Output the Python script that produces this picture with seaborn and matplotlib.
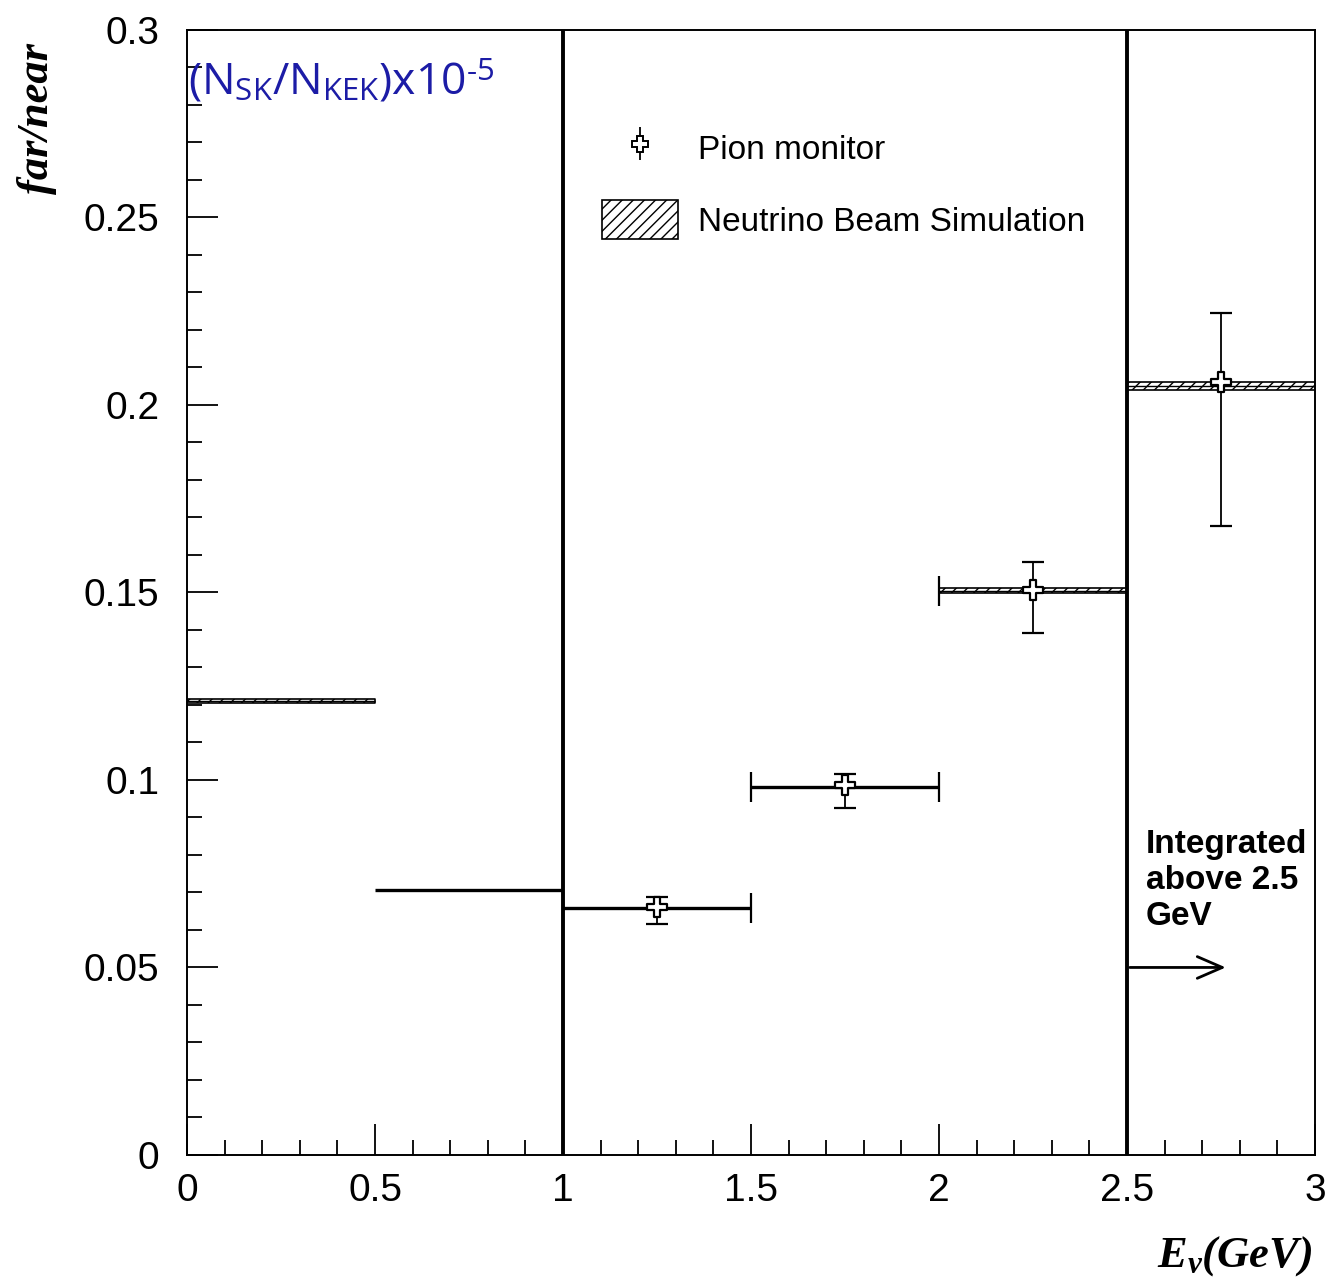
import numpy as np
import pandas as pd
import matplotlib
matplotlib.use("Agg")
import matplotlib.pyplot as plt
from matplotlib.patches import Patch
import seaborn as sns

# Neutrino beam simulation: far/near ratio per energy bin
bin_lo = [0.0, 0.5, 1.0, 1.5, 2.0, 2.5]
bin_hi = [0.5, 1.0, 1.5, 2.0, 2.5, 3.0]
sim_ratio = [0.1210, 0.0707, 0.0658, 0.0981, 0.1505, 0.2051]
sim_halfwidth = [0.0005, 0.0, 0.0, 0.0, 0.0007, 0.0011]

# Pion monitor measurements
pion_e = [1.25, 1.75, 2.25, 2.75]
pion_ratio = [0.0662, 0.0987, 0.1507, 0.2062]
pion_err_lo = [0.0045, 0.0062, 0.0116, 0.0384]
pion_err_hi = [0.0027, 0.0028, 0.0074, 0.0184]

# Tick labels
xticks = [0, 0.5, 1, 1.5, 2, 2.5, 3]
xticklabels = ["0", "0.5", "1", "1.5", "2", "2.5", "3"]
yticks = [0, 0.05, 0.1, 0.15, 0.2, 0.25, 0.3]
yticklabels = ["0", "0.05", "0.1", "0.15", "0.2", "0.25", "0.3"]

sns.set_theme(style="ticks")
plt.rcParams["font.family"] = ["Liberation Sans", "DejaVu Sans"]
plt.rcParams["text.color"] = "black"
plt.rcParams["xtick.color"] = "black"
plt.rcParams["ytick.color"] = "black"
plt.rcParams["xtick.labelcolor"] = "black"
plt.rcParams["ytick.labelcolor"] = "black"
plt.rcParams["hatch.linewidth"] = 1.0
plt.rcParams["mathtext.fontset"] = "custom"
plt.rcParams["mathtext.it"] = "Liberation Serif:bold:italic"
plt.rcParams["mathtext.rm"] = "Liberation Serif:bold:italic"

fig = plt.figure(figsize=(13.36, 12.86), dpi=100)
ax = fig.add_axes([0.14, 0.1019, 0.8443, 0.8748])

sim = pd.DataFrame({"lo": bin_lo, "hi": bin_hi, "ratio": sim_ratio, "hw": sim_halfwidth})
sim["mid"] = (sim["lo"] + sim["hi"]) / 2

# Simulation bands (hatched) and central values
for _, r in sim.iterrows():
    if r["hw"] > 0:
        ax.fill_between([r["lo"], r["hi"]], r["ratio"] - r["hw"], r["ratio"] + r["hw"],
                        facecolor="white", edgecolor="black", hatch="///", linewidth=1.2, zorder=2)
    ax.hlines(r["ratio"], r["lo"], r["hi"], color="black",
              linewidth=2.4 if r["hw"] == 0 else 1.0, zorder=3)

# Bin-width bars with end caps for the central bins
mid_bins = sim.iloc[2:5]
ax.errorbar(mid_bins["mid"], mid_bins["ratio"], xerr=0.25, fmt="none", ecolor="black",
            elinewidth=0, capsize=11, capthick=1.6, zorder=3)

# Region boundaries
ax.vlines([1.0, 2.5], 0, 0.3, color="black", linewidth=2.8, zorder=4)

# Pion monitor points
pion = pd.DataFrame({"e": pion_e, "ratio": pion_ratio, "lo": pion_err_lo, "hi": pion_err_hi})
ax.errorbar(pion["e"], pion["ratio"], yerr=[pion["lo"], pion["hi"]], fmt="none",
            ecolor="black", elinewidth=1.3, capsize=8, capthick=1.6, zorder=5)
sns.scatterplot(data=pion, x="e", y="ratio", marker="P", s=210, color="white",
                edgecolor="black", linewidth=1.6, zorder=6, ax=ax, legend=False)
ax.set_xlabel("")
ax.set_ylabel("")

ax.set_xlim(0, 3)
ax.set_ylim(0, 0.3)
ax.set_xticks(xticks)
ax.set_xticklabels(xticklabels, fontsize=28)
ax.set_yticks(yticks)
ax.set_yticklabels(yticklabels, fontsize=28)
ax.set_xticks(np.arange(0, 3.0001, 0.1), minor=True)
ax.set_yticks(np.arange(0, 0.3001, 0.01), minor=True)
ax.tick_params(axis="both", which="major", direction="in", length=22, width=1.3, color="black")
ax.tick_params(axis="both", which="minor", direction="in", length=11, width=1.3, color="black")
ax.tick_params(axis="y", which="major", pad=20)
ax.tick_params(axis="x", which="major", pad=13)
ax.tick_params(top=False, right=False, which="both")
for s in ax.spines.values():
    s.set_linewidth(1.4)
    s.set_color("black")

# Axis titles
fig.text(0.028, 1 - 118 / 1286, "far/near", rotation=90, fontsize=32,
         fontfamily="Liberation Serif", fontweight="bold", fontstyle="italic",
         ha="center", va="center")
fig.text(1312 / 1336, 1 - 1256 / 1286, r"$E_{\nu}$(GeV)", fontsize=32,
         fontfamily="Liberation Serif", fontweight="bold", fontstyle="italic",
         ha="right", va="center")

ax.text(0.003, 0.2925,
        "(N$_{\\mathregular{SK}}$/N$_{\\mathregular{KEK}}$)x10$^{\\mathregular{\u2010 5}}$",
        color="#1c1ca6", fontsize=32, fontfamily="Open Sans", va="top", ha="left")

ax.text(2.55, 0.0868, "Integrated\nabove 2.5\nGeV", fontsize=24, fontweight="bold",
        va="top", ha="left", linespacing=1.2)
ax.annotate("", xy=(2.77, 0.05), xytext=(2.5, 0.05),
            arrowprops=dict(arrowstyle="->,head_length=1.5,head_width=0.65", color="black", lw=2.0))

eb_handle = ax.errorbar([], [], yerr=[], fmt="P", ms=12, mfc="white", mec="black", mew=1.4,
                        ecolor="black", elinewidth=1.3, capsize=7, capthick=1.4)
sim_handle = Patch(facecolor="white", edgecolor="black", hatch="///", linewidth=1.2)
ax.legend([eb_handle, sim_handle], ["Pion monitor", "Neutrino Beam Simulation"],
          loc="upper left", bbox_to_anchor=(0.341, 0.939), frameon=False, fontsize=24,
          handlelength=2.3, handleheight=1.4, handletextpad=0.6, labelspacing=1.0)

fig.savefig("out.png", dpi=100)
